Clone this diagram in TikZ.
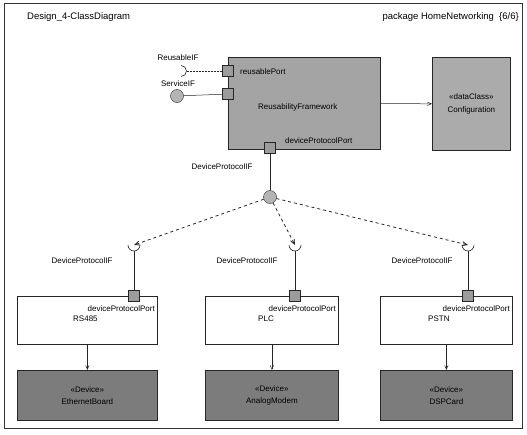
\documentclass[tikz,border=0pt]{standalone}
\usepackage{fontspec}
\setmainfont{Liberation Sans}
\usetikzlibrary{arrows, positioning}
\definecolor{fwgray}{HTML}{A4A4A4}
\definecolor{cfggray}{HTML}{ABABAB}
\definecolor{devgray}{HTML}{7C7C7C}
\definecolor{portgray}{HTML}{9C9C9C}
\definecolor{ballgray}{HTML}{B4B4B4}

\begin{document}
\begin{tikzpicture}[x=1pt, y=-1pt,
		every node/.style={font=\fontsize{8}{9.5}\selectfont, inner sep=0pt},
		box/.style={draw=black!85, line width=.8pt, anchor=north west, align=center},
		port/.style={draw=black!85, fill=portgray, line width=.6pt, minimum size=11},
		ball/.style={circle, draw=black!85, fill=ballgray, minimum size=13},
		cup/.style={draw=black!85, line width=.6pt},
		link/.style={draw=black!85, line width=.5pt},
		dep/.style={draw=black!85, line width=.8pt, dashed, ->, >=angle 45},
		assoc/.style={draw=black!85, line width=.5pt, ->, >=angle 45}]
	\useasboundingbox (0,0) rectangle (527,434);
	\draw[black!80] (4,3) rectangle (522,428);
	\node[anchor=west, font=\fontsize{9.5}{11}\selectfont] (title) at (27,17) {Design\_4-ClassDiagram};
	\node[anchor=east, font=\fontsize{9.5}{11}\selectfont] (pkg) at (519,17) {package HomeNetworking~~\{6/6\}};

	% framework and configuration
	\node[box, fill=fwgray, minimum width=152, minimum height=92] (fw) at (228,57) {};
	\node[anchor=west] (fwname) at (258,107) {ReusabilityFramework};
	\node[anchor=west] (rpname) at (240,72) {reusablePort};
	\node[anchor=west] (dpname) at (285,141) {deviceProtocolPort};
	\node[box, fill=cfggray, minimum width=78, minimum height=93] (cfg) at (432,57) {«dataClass»\\[3pt]Configuration};
	\draw[assoc] (fw) -- (cfg);

	\node[port] (rport) at (228,71) {};
	\node[port] (sport) at (228,94) {};
	\node[port] (dport) at (270,148) {};
	\draw[link, densely dotted] (rport) -- (sport);

	% interfaces of the framework
	\coordinate (rcup) at (181,71);
	\coordinate (rtip) at (186.5,71);
	\draw[cup] (rcup) ++(0,-5.5) arc (-90:90:5.5);
	\draw[link, densely dotted] (rtip) -- (rport);
	\node (rifname) at (178,58) {ReusableIF};
	\node[ball] (sif) at (177,96) {};
	\draw[link] (sif) -- (sport);
	\node (sifname) at (178,84) {ServiceIF};
	\node[ball] (dpif) at (270,197) {};
	\draw[link] (dport) -- (dpif);
	\node (dpifname) at (222,167) {DeviceProtocolIF};

	% protocol classes
	\foreach \n/\x/\w/\px/\lx/\dev in {
			a/17/140/134/82/EthernetBoard,
			b/205/133/295/247/AnalogModem,
			c/380/132/468/422/DSPCard}{
		\node[box, fill=white, minimum width=\w, minimum height=48] (cls\n) at (\x,296) {};
		\node[box, fill=devgray, minimum width=\w, minimum height=50] (dev\n) at (\x,370) {«Device»\\[3pt]\dev};
		\draw[assoc] (cls\n) -- (dev\n);
		\node[anchor=east] (pn\n) at (\x+\w-2,309) {deviceProtocolPort};
		\node[port] (p\n) at (\px,296) {};
		\coordinate (cup\n) at (\px,245);
		\coordinate (tip\n) at (\px,251);
		\draw[cup] (cup\n) ++(-6,0) arc (180:0:6);
		\draw[link] (tip\n) -- (p\n);
		\draw[dep] (dpif) -- (cup\n);
		\node (ifn\n) at (\lx,261) {DeviceProtocolIF};
	}
	\node[anchor=west] (rsname) at (73,319) {RS485};
	\node (plcname) at (266,319) {PLC};
	\node[anchor=west] (pstnname) at (428,319) {PSTN};
\end{tikzpicture}
\end{document}
